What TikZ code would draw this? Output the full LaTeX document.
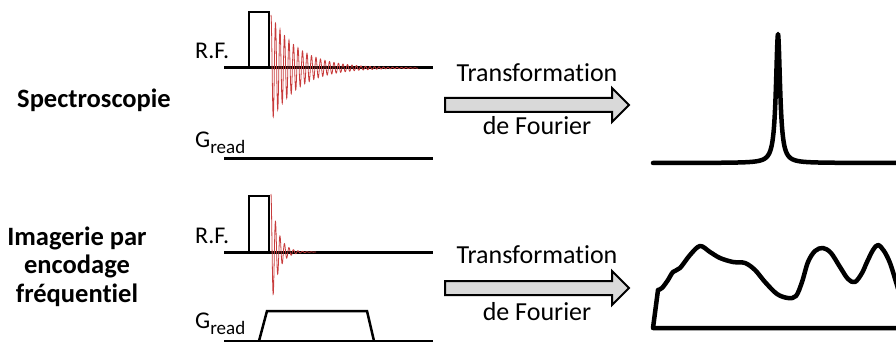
\documentclass[tikz,border=0pt]{standalone}
\usepackage{fontspec}
\setmainfont{Carlito}[Ligatures=NoCommon]
\definecolor{fidred}{RGB}{200,60,60}
\definecolor{arrowgray}{RGB}{217,217,217}
\begin{document}
\begin{tikzpicture}[x=1pt,y=-1pt,
  lab/.style={inner sep=0pt, font=\fontsize{24}{28}\selectfont, anchor=base west},
  ft/.style={inner sep=0pt, font=\fontsize{26}{30}\selectfont, anchor=base},
  side/.style={inner sep=0pt, font=\fontsize{26.5}{30}\selectfont\bfseries, anchor=base},
  axis/.style={line width=3pt},
  pulse/.style={line width=2.5pt, line join=miter},
  fid/.style={line width=0.8pt, color=fidred},
  spec/.style={line width=4.5pt, line cap=round, line join=round},
  ftarrow/.style={fill=arrowgray, draw=black, line width=2pt, line join=miter}]
\useasboundingbox (0,0) rectangle (896,342);

% left labels
\node[side] (spec) at (94,107) {Spectroscopie};
\node[side] (img1) at (77,245) {Imagerie par};
\node[side] (img2) at (77,273) {encodage};
\node[side] (img3) at (77,302) {fréquentiel};

% ---------- top row ----------
\node[lab] (rf1) at (195,59) {R.F.};
\node[lab] (g1) at (195,147) {G\raisebox{-6pt}{\fontsize{19}{19}\selectfont read}};
\coordinate (rf1a) at (224,68);
\coordinate (rf1b) at (433,68);
\coordinate (g1a) at (224,158);
\coordinate (g1b) at (433,158);
\draw[axis] (rf1a) -- (rf1b);
\draw[axis] (g1a) -- (g1b);
\draw[pulse] (249,68) -- (249,12) -- (269,12) -- (269,68);
\draw[fid] plot[domain=0:147, samples=900] ({\x+271}, {68-53*exp(-\x/28)*cos(80*\x)});

% arrow + text
\node[ft] (tf1) at (537,82) {Transformation};
\node[ft] (df1) at (537,135) {de Fourier};
\draw[ftarrow] (445,98) -- (612,98) -- (612,88) -- (629,105) -- (612,122) -- (612,112) -- (445,112) -- cycle;

% spectrum
\draw[spec] plot[domain=653:778, samples=400] (\x, {163-129*6.25/((\x-778)*(\x-778)+6.25)})
  -- plot[domain=778:900, samples=400] (\x, {163-129*6.25/((\x-778)*(\x-778)+6.25)});

% ---------- bottom row ----------
\node[lab] (rf2) at (195,243) {R.F.};
\node[lab] (g2) at (195,328) {G\raisebox{-6pt}{\fontsize{19}{19}\selectfont read}};
\coordinate (rf2a) at (224,252);
\coordinate (rf2b) at (433,252);
\coordinate (g2a) at (224,341);
\coordinate (g2b) at (433,341);
\draw[axis] (rf2a) -- (rf2b);
\draw[axis] (g2a) -- (g2b);
\draw[pulse] (249,252) -- (249,196) -- (269,196) -- (269,252);
\draw[fid] plot[domain=0:45, samples=400] ({\x+271}, {252-58*exp(-\x/7)*cos(80*\x)});
\draw[pulse] (259,341) -- (267,311) -- (367,311) -- (374,341);

\node[ft] (tf2) at (537,263) {Transformation};
\node[ft] (df2) at (537,320) {de Fourier};
\draw[ftarrow] (445,281) -- (612,281) -- (612,271) -- (629,288) -- (612,305) -- (612,295) -- (445,295) -- cycle;

\draw[spec] (900,328) -- (653,328) -- (658,290)
  plot[smooth, tension=0.55] coordinates {(658,290) (662,288) (668,280) (673,272) (680,268)
    (690,255) (700,246) (710,252) (720,258) (733,262) (745,263) (755,270) (765,282)
    (777,294) (788,298) (796,296) (802,282) (808,262) (815,251) (823,248) (831,253)
    (840,267) (848,279) (855,282) (862,273) (867,262) (873,250) (878,245) (884,251)
    (890,263) (896,282) (899,292)};
\end{tikzpicture}
\end{document}
